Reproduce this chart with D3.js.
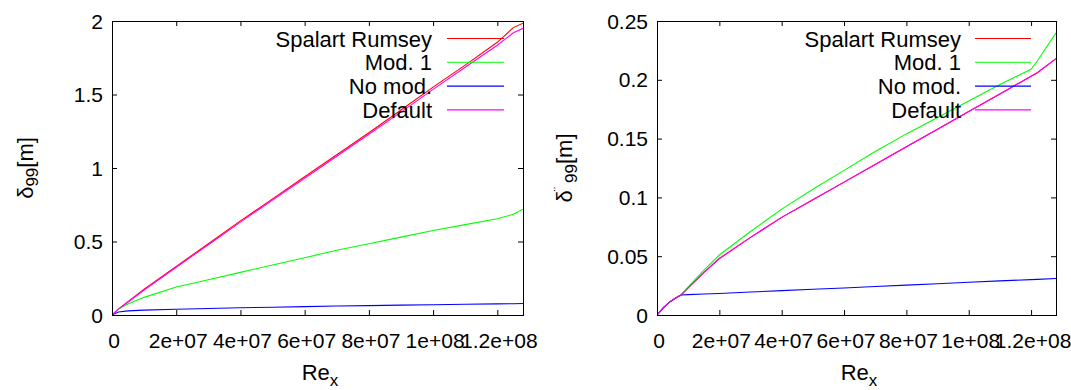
<!DOCTYPE html>
<html><head><meta charset="utf-8">
<script src="https://cdn.jsdelivr.net/npm/d3@7"></script>
<style>
html,body{margin:0;padding:0;background:#fff;}
svg text{font-family:"Liberation Sans",Arial,sans-serif;fill:#000;}
</style></head>
<body>
<svg id="chart" width="1071" height="390"></svg>
<script>
// ---- data ----
const seriesNames = ["Spalart Rumsey", "Mod. 1", "No mod.", "Default"];
const xTicks = [0, 2e7, 4e7, 6e7, 8e7, 1e8, 1.2e8];
const xTickLabels = ["0", "2e+07", "4e+07", "6e+07", "8e+07", "1e+08", "1.2e+08"];
const leftYTicks = [0, 0.5, 1, 1.5, 2];
const leftYTickLabels = ["0", "0.5", "1", "1.5", "2"];
const rightYTicks = [0, 0.05, 0.1, 0.15, 0.2, 0.25];
const rightYTickLabels = ["0", "0.05", "0.1", "0.15", "0.2", "0.25"];

const leftRe      = [0, 2e6, 5e6, 1e7, 2e7, 3e7, 4e7, 5e7, 6e7, 7e7, 8e7, 9e7, 1e8, 1.1e8, 1.2e8, 1.25e8, 1.28e8];
const leftSA      = [0, 0.04, 0.09, 0.175, 0.33, 0.485, 0.64, 0.79, 0.94, 1.09, 1.24, 1.395, 1.55, 1.70, 1.855, 1.955, 1.985];
const leftMod1    = [0, 0.04, 0.075, 0.12, 0.19, 0.24, 0.29, 0.34, 0.39, 0.44, 0.485, 0.53, 0.575, 0.615, 0.655, 0.685, 0.72];
const leftNoMod   = [0, 0.02, 0.028, 0.033, 0.039, 0.044, 0.049, 0.053, 0.057, 0.061, 0.064, 0.067, 0.07, 0.073, 0.076, 0.077, 0.078];
const leftDefault = [0, 0.04, 0.088, 0.17, 0.325, 0.478, 0.632, 0.782, 0.93, 1.08, 1.23, 1.38, 1.535, 1.685, 1.835, 1.92, 1.95];

const rightRe      = [0, 2e6, 4e6, 6e6, 7.7e6, 1e7, 1.5e7, 2e7, 3e7, 4e7, 5e7, 6e7, 7e7, 8e7, 9e7, 1e8, 1.1e8, 1.2e8, 1.22e8, 1.28e8];
const rightSA      = [0, 0.006, 0.011, 0.0145, 0.017, 0.023, 0.036, 0.048, 0.066, 0.083, 0.098, 0.113, 0.128, 0.143, 0.158, 0.173, 0.188, 0.203, 0.206, 0.218];
const rightMod1    = [0, 0.006, 0.011, 0.0145, 0.017, 0.024, 0.038, 0.051, 0.071, 0.09, 0.107, 0.123, 0.139, 0.154, 0.168, 0.182, 0.196, 0.209, 0.216, 0.24];
const rightNoMod   = [0, 0.006, 0.011, 0.0145, 0.017, 0.0173, 0.0178, 0.0183, 0.0195, 0.0207, 0.0219, 0.023, 0.0242, 0.0254, 0.0266, 0.0278, 0.029, 0.0301, 0.0303, 0.031];
const rightDefault = [0, 0.006, 0.011, 0.0145, 0.017, 0.023, 0.036, 0.048, 0.066, 0.083, 0.098, 0.113, 0.128, 0.143, 0.158, 0.173, 0.188, 0.203, 0.206, 0.218];

const xMax = 1.28e8;
const colors = ["#ff0000", "#00ff00", "#0000ff", "#ff00ff"];

// ---- drawing ----
const svg = d3.select("#chart");
const FS = 22;     // legend and titles
const TFS = 21;    // tick labels
const SUB = 17;

function panel(cfg) {
  const {x0, x1, y0, y1, yMax, yTicks, yLabels, re, series, legendTextX, legendLine, titleX, yTitle} = cfg;
  const x = d3.scaleLinear().domain([0, xMax]).range([x0, x1]);
  const y = d3.scaleLinear().domain([0, yMax]).range([y1, y0]);
  const g = svg.append("g");
  const tl = 5;

  const xAxB = d3.axisBottom(x).tickValues(xTicks).tickSizeInner(-tl).tickSizeOuter(0).tickFormat("");
  const xAxT = d3.axisTop(x).tickValues(xTicks).tickSizeInner(-tl).tickSizeOuter(0).tickFormat("");
  const yAxL = d3.axisLeft(y).tickValues(yTicks).tickSizeInner(-tl).tickSizeOuter(0).tickFormat("");
  const yAxR = d3.axisRight(y).tickValues(yTicks).tickSizeInner(-tl).tickSizeOuter(0).tickFormat("");
  [[xAxB, `translate(0,${y1})`], [xAxT, `translate(0,${y0})`], [yAxL, `translate(${x0},0)`], [yAxR, `translate(${x1},0)`]]
    .forEach(([ax, tr]) => {
      const a = g.append("g").attr("transform", tr).call(ax);
      a.select(".domain").remove();
      a.selectAll("line").attr("stroke", "#000").attr("stroke-width", 1);
      a.selectAll("text").remove();
    });

  g.selectAll(".xl").data(xTicks).enter().append("text")
    .attr("x", (d) => x(d) + 2).attr("y", y1 + 33)
    .attr("text-anchor", "middle").attr("font-size", TFS)
    .text((d, i) => xTickLabels[i]);
  g.selectAll(".yl").data(yTicks).enter().append("text")
    .attr("x", x0 - 9).attr("y", (d) => y(d) + 7.5)
    .attr("text-anchor", "end").attr("font-size", TFS)
    .text((d, i) => yLabels[i]);

  const line = d3.line().x((d) => x(d[0])).y((d) => y(d[1]));
  const clipId = "clip" + x0;
  svg.append("clipPath").attr("id", clipId).append("rect")
    .attr("x", x0).attr("y", y0).attr("width", x1 - x0).attr("height", y1 - y0);
  series.forEach((vals, i) => {
    g.append("path").datum(re.map((r, k) => [r, vals[k]]))
      .attr("d", line).attr("fill", "none")
      .attr("stroke", colors[i]).attr("stroke-width", 1.1)
      .attr("clip-path", `url(#${clipId})`);
  });

  g.append("rect").attr("x", x0 + 0.5).attr("y", y0 + 0.5)
    .attr("width", x1 - x0).attr("height", y1 - y0)
    .attr("fill", "none").attr("stroke", "#000").attr("stroke-width", 1);

  seriesNames.forEach((name, i) => {
    const ly = 38.5 + i * 23.8;
    g.append("text").attr("x", legendTextX).attr("y", ly + 8)
      .attr("text-anchor", "end").attr("font-size", FS).text(name);
    g.append("line").attr("x1", legendLine[0]).attr("x2", legendLine[1])
      .attr("y1", ly).attr("y2", ly).attr("stroke", colors[i]).attr("stroke-width", 1.1);
  });

  const xt = g.append("text").attr("x", titleX).attr("y", 380)
    .attr("text-anchor", "middle").attr("font-size", FS);
  xt.append("tspan").text("Re");
  xt.append("tspan").attr("dy", 6).attr("font-size", SUB).text("x");

  yTitle(g);
}

panel({
  x0: 112, x1: 523, y0: 21, y1: 315, yMax: 2,
  yTicks: leftYTicks, yLabels: leftYTickLabels,
  re: leftRe, series: [leftSA, leftMod1, leftNoMod, leftDefault],
  legendTextX: 432, legendLine: [447, 504], titleX: 320,
  yTitle: (g) => {
    const t = g.append("text").attr("transform", "translate(33,168) rotate(-90)")
      .attr("text-anchor", "middle").attr("font-size", FS);
    t.append("tspan").text("δ");
    t.append("tspan").attr("dy", 5).attr("font-size", SUB).text("99");
    t.append("tspan").attr("dy", -5).text("[m]");
  }
});

panel({
  x0: 657, x1: 1056, y0: 21, y1: 315, yMax: 0.25,
  yTicks: rightYTicks, yLabels: rightYTickLabels,
  re: rightRe, series: [rightSA, rightMod1, rightNoMod, rightDefault],
  legendTextX: 961, legendLine: [975, 1031], titleX: 859,
  yTitle: (g) => {
    const t = g.append("text").attr("transform", "translate(572,168) rotate(-90)")
      .attr("text-anchor", "middle").attr("font-size", FS);
    t.append("tspan").text("δ");
    t.append("tspan").attr("dy", -9).attr("dx", -1).attr("font-size", 13).text("¨");
    t.append("tspan").attr("dy", 14).attr("dx", 4).attr("font-size", SUB).text("99");
    t.append("tspan").attr("dy", -5).text("[m]");
  }
});
</script>
</body></html>
